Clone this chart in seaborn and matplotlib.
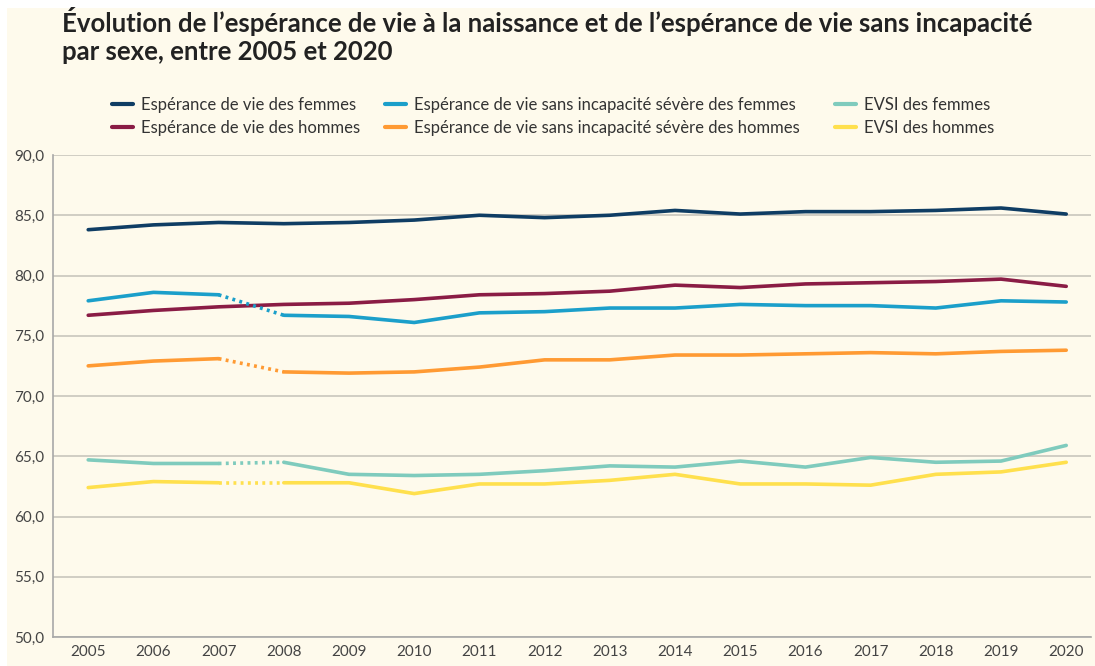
import numpy as np
import pandas as pd
import matplotlib.pyplot as plt
import matplotlib.patches as patches
from matplotlib.lines import Line2D
import seaborn as sns

years = list(range(2005, 2021))

ev_femmes = [83.8, 84.2, 84.4, 84.3, 84.4, 84.6, 85.0, 84.8, 85.0, 85.4, 85.1, 85.3, 85.3, 85.4, 85.6, 85.1]
ev_hommes = [76.7, 77.1, 77.4, 77.6, 77.7, 78.0, 78.4, 78.5, 78.7, 79.2, 79.0, 79.3, 79.4, 79.5, 79.7, 79.1]
evsis_femmes = [77.9, 78.6, 78.4, 76.7, 76.6, 76.1, 76.9, 77.0, 77.3, 77.3, 77.6, 77.5, 77.5, 77.3, 77.9, 77.8]
evsis_hommes = [72.5, 72.9, 73.1, 72.0, 71.9, 72.0, 72.4, 73.0, 73.0, 73.4, 73.4, 73.5, 73.6, 73.5, 73.7, 73.8]
evsi_femmes = [64.7, 64.4, 64.4, 64.5, 63.5, 63.4, 63.5, 63.8, 64.2, 64.1, 64.6, 64.1, 64.9, 64.5, 64.6, 65.9]
evsi_hommes = [62.4, 62.9, 62.8, 62.8, 62.8, 61.9, 62.7, 62.7, 63.0, 63.5, 62.7, 62.7, 62.6, 63.5, 63.7, 64.5]

# series: label, values, colour, break between 2007 and 2008
series = [
    ("Espérance de vie des femmes", ev_femmes, "#0f3d64", False),
    ("Espérance de vie des hommes", ev_hommes, "#8a1c45", False),
    ("Espérance de vie sans incapacité sévère des femmes", evsis_femmes, "#1b9fca", True),
    ("Espérance de vie sans incapacité sévère des hommes", evsis_hommes, "#ff9a33", True),
    ("EVSI des femmes", evsi_femmes, "#7fcbbd", True),
    ("EVSI des hommes", evsi_hommes, "#ffe04d", True),
]

bg = "#fefaec"
sns.set_theme(style="white")
plt.rcParams['font.family'] = ['Lato', 'DejaVu Sans']

fig = plt.figure(figsize=(10.95, 6.66), dpi=100, facecolor="white")
fig.patches.append(patches.Rectangle((7 / 1095, 0), 1, 1 - 8 / 666, transform=fig.transFigure,
                                     facecolor=bg, edgecolor="none", zorder=-10))
ax = fig.add_axes([53 / 1095, 1 - 637 / 666, (1091 - 53) / 1095, (637 - 155) / 666])
ax.set_facecolor(bg)

lw = 2.6
for label, vals, color, brk in series:
    df = pd.DataFrame({"annee": years, "valeur": vals})
    if brk:
        sns.lineplot(data=df[df.annee <= 2007], x="annee", y="valeur", color=color, lw=lw, ax=ax)
        sns.lineplot(data=df[(df.annee >= 2007) & (df.annee <= 2008)], x="annee", y="valeur",
                     color=color, lw=lw, ax=ax, linestyle=(0, (0.8, 1.2)))
        sns.lineplot(data=df[df.annee >= 2008], x="annee", y="valeur", color=color, lw=lw, ax=ax)
    else:
        sns.lineplot(data=df, x="annee", y="valeur", color=color, lw=lw, ax=ax)

ax.set_xlim(2004.46, 2020.38)
ax.set_ylim(50, 90)
ax.set_yticks(np.arange(50, 91, 5))
ax.set_yticklabels([f"{v:.1f}".replace(".", ",") for v in np.arange(50, 91, 5)])
ax.set_xticks(years)
ax.set_xlabel("")
ax.set_ylabel("")
ax.grid(axis="y", color="#c9c6bd", lw=1.2)
ax.set_axisbelow(True)
for s in ["top", "right"]:
    ax.spines[s].set_visible(False)
for s in ["left", "bottom"]:
    ax.spines[s].set_color("#a8a8a8")
    ax.spines[s].set_linewidth(1.2)
ax.tick_params(axis="both", labelsize=11, colors="#444444", length=0, pad=6)

# one legend per column, placed at the reference positions
col_x = [100, 373, 823]
for c, x0 in enumerate(col_x):
    pair = series[2 * c:2 * c + 2]
    handles = [Line2D([], [], color=s[2], lw=3) for s in pair]
    labels = [s[0] for s in pair]
    fig.legend(handles, labels, ncol=1, loc="upper left", bbox_to_anchor=(x0 / 1095, 1 - 85 / 666),
               frameon=False, fontsize=12, handlelength=1.3, handletextpad=0.45,
               labelspacing=0.45, labelcolor="#333333", borderpad=0.2)

fig.text(62 / 1095, 1 - 7 / 666, "Évolution de l’espérance de vie à la naissance et de l’espérance de vie sans incapacité\npar sexe, entre 2005 et 2020",
         ha="left", va="top", fontsize=18.5, fontweight="bold", color="#222222", linespacing=1.18)

fig.savefig("out.png", dpi=100, facecolor="white")
